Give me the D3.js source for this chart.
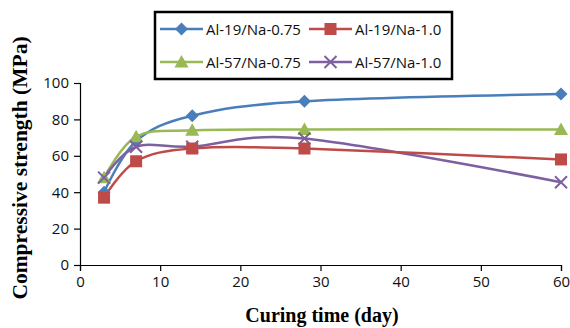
<!DOCTYPE html>
<html><head><meta charset="utf-8">
<script src="https://cdn.jsdelivr.net/npm/d3@7"></script>
<style>body{margin:0;background:#fff}svg{display:block}</style>
</head><body><svg id="c" width="570" height="328"></svg>
<script>
const days = [3, 7, 14, 28, 60];
const seriesNames = ["Al-19/Na-0.75", "Al-19/Na-1.0", "Al-57/Na-0.75", "Al-57/Na-1.0"];
const al19na075 = [40, 68, 82, 90, 94];
const al19na10 = [37, 57, 64, 64, 58];
const al57na075 = [48, 70.5, 74, 74.5, 74.5];
const al57na10 = [48, 65, 65, 69.5, 45.5];
const xTicks = [0, 10, 20, 30, 40, 50, 60];
const yTicks = [0, 20, 40, 60, 80, 100];
const colors = ["#4a7ebb", "#be4b48", "#98b954", "#7d60a0"];
const markers = ["diamond", "square", "triangle", "x"];
const values = [al19na075, al19na10, al57na075, al57na10];

const svg = d3.select("#c");
const x = d3.scaleLinear().domain([0, 60]).range([80, 561]);
const y = d3.scaleLinear().domain([0, 100]).range([265, 83]);
const tickFont = "'Open Sans', 'Noto Sans', sans-serif";

const xa = svg.append("g").attr("transform", "translate(0,265)")
  .call(d3.axisBottom(x).tickValues(xTicks).tickSize(6).tickPadding(5));
const ya = svg.append("g").attr("transform", "translate(80,0)")
  .call(d3.axisLeft(y).tickValues(yTicks).tickSize(6).tickPadding(5));
[xa, ya].forEach(a => {
  a.select(".domain").attr("stroke", "#000").attr("stroke-width", 1.2);
  a.selectAll(".tick line").attr("stroke", "#000").attr("stroke-width", 1.2);
  a.selectAll("text").attr("font-family", tickFont).attr("font-size", 15).attr("fill", "#111");
});

svg.append("text").attr("x", 322).attr("y", 322)
  .attr("text-anchor", "middle").attr("font-family", "'Liberation Serif', serif")
  .attr("font-weight", "bold").attr("font-size", 20).text("Curing time (day)");
svg.append("text").attr("transform", "translate(27,168) rotate(-90)")
  .attr("text-anchor", "middle").attr("font-family", "'Liberation Serif', serif")
  .attr("font-weight", "bold").attr("font-size", 21.5).text("Compressive strength (MPa)");

function drawMarker(g, type, cx, cy, color) {
  if (type === "diamond") {
    g.append("path").attr("d", `M${cx},${cy-6.5}L${cx+6.5},${cy}L${cx},${cy+6.5}L${cx-6.5},${cy}Z`).attr("fill", color);
  } else if (type === "square") {
    g.append("rect").attr("x", cx-6).attr("y", cy-6).attr("width", 12).attr("height", 12).attr("fill", color);
  } else if (type === "triangle") {
    g.append("path").attr("d", `M${cx},${cy-7}L${cx+7},${cy+5.5}L${cx-7},${cy+5.5}Z`).attr("fill", color);
  } else {
    g.append("path").attr("d", `M${cx-6},${cy-6}L${cx+6},${cy+6}M${cx+6},${cy-6}L${cx-6},${cy+6}`)
      .attr("stroke", color).attr("stroke-width", 2).attr("fill", "none");
  }
}

const line = d3.line().x((d, i) => x(days[i])).y(d => y(d)).curve(d3.curveCatmullRom.alpha(0));
const order = [0, 2, 3, 1];
order.forEach(s => {
  svg.append("path").datum(values[s]).attr("d", line).attr("fill", "none")
    .attr("stroke", colors[s]).attr("stroke-width", 2.5);
});
order.forEach(s => {
  const g = svg.append("g");
  values[s].forEach((v, i) => drawMarker(g, markers[s], x(days[i]), y(v), colors[s]));
});

// legend
const lg = svg.append("g");
lg.append("rect").attr("x", 155).attr("y", 12).attr("width", 297).attr("height", 67)
  .attr("fill", "#fff").attr("stroke", "#000").attr("stroke-width", 2.5);
const pos = [[160, 29], [309, 29], [160, 62], [309, 62]];
seriesNames.forEach((n, s) => {
  const [lx, ly] = pos[s];
  lg.append("line").attr("x1", lx).attr("x2", lx + 43).attr("y1", ly).attr("y2", ly)
    .attr("stroke", colors[s]).attr("stroke-width", 2.5);
  drawMarker(lg, markers[s], lx + 21.5, ly, colors[s]);
  lg.append("text").attr("x", lx + 46).attr("y", ly + 5.5).attr("font-family", tickFont)
    .attr("font-size", 15).attr("fill", "#111").text(n);
});
</script></body></html>
